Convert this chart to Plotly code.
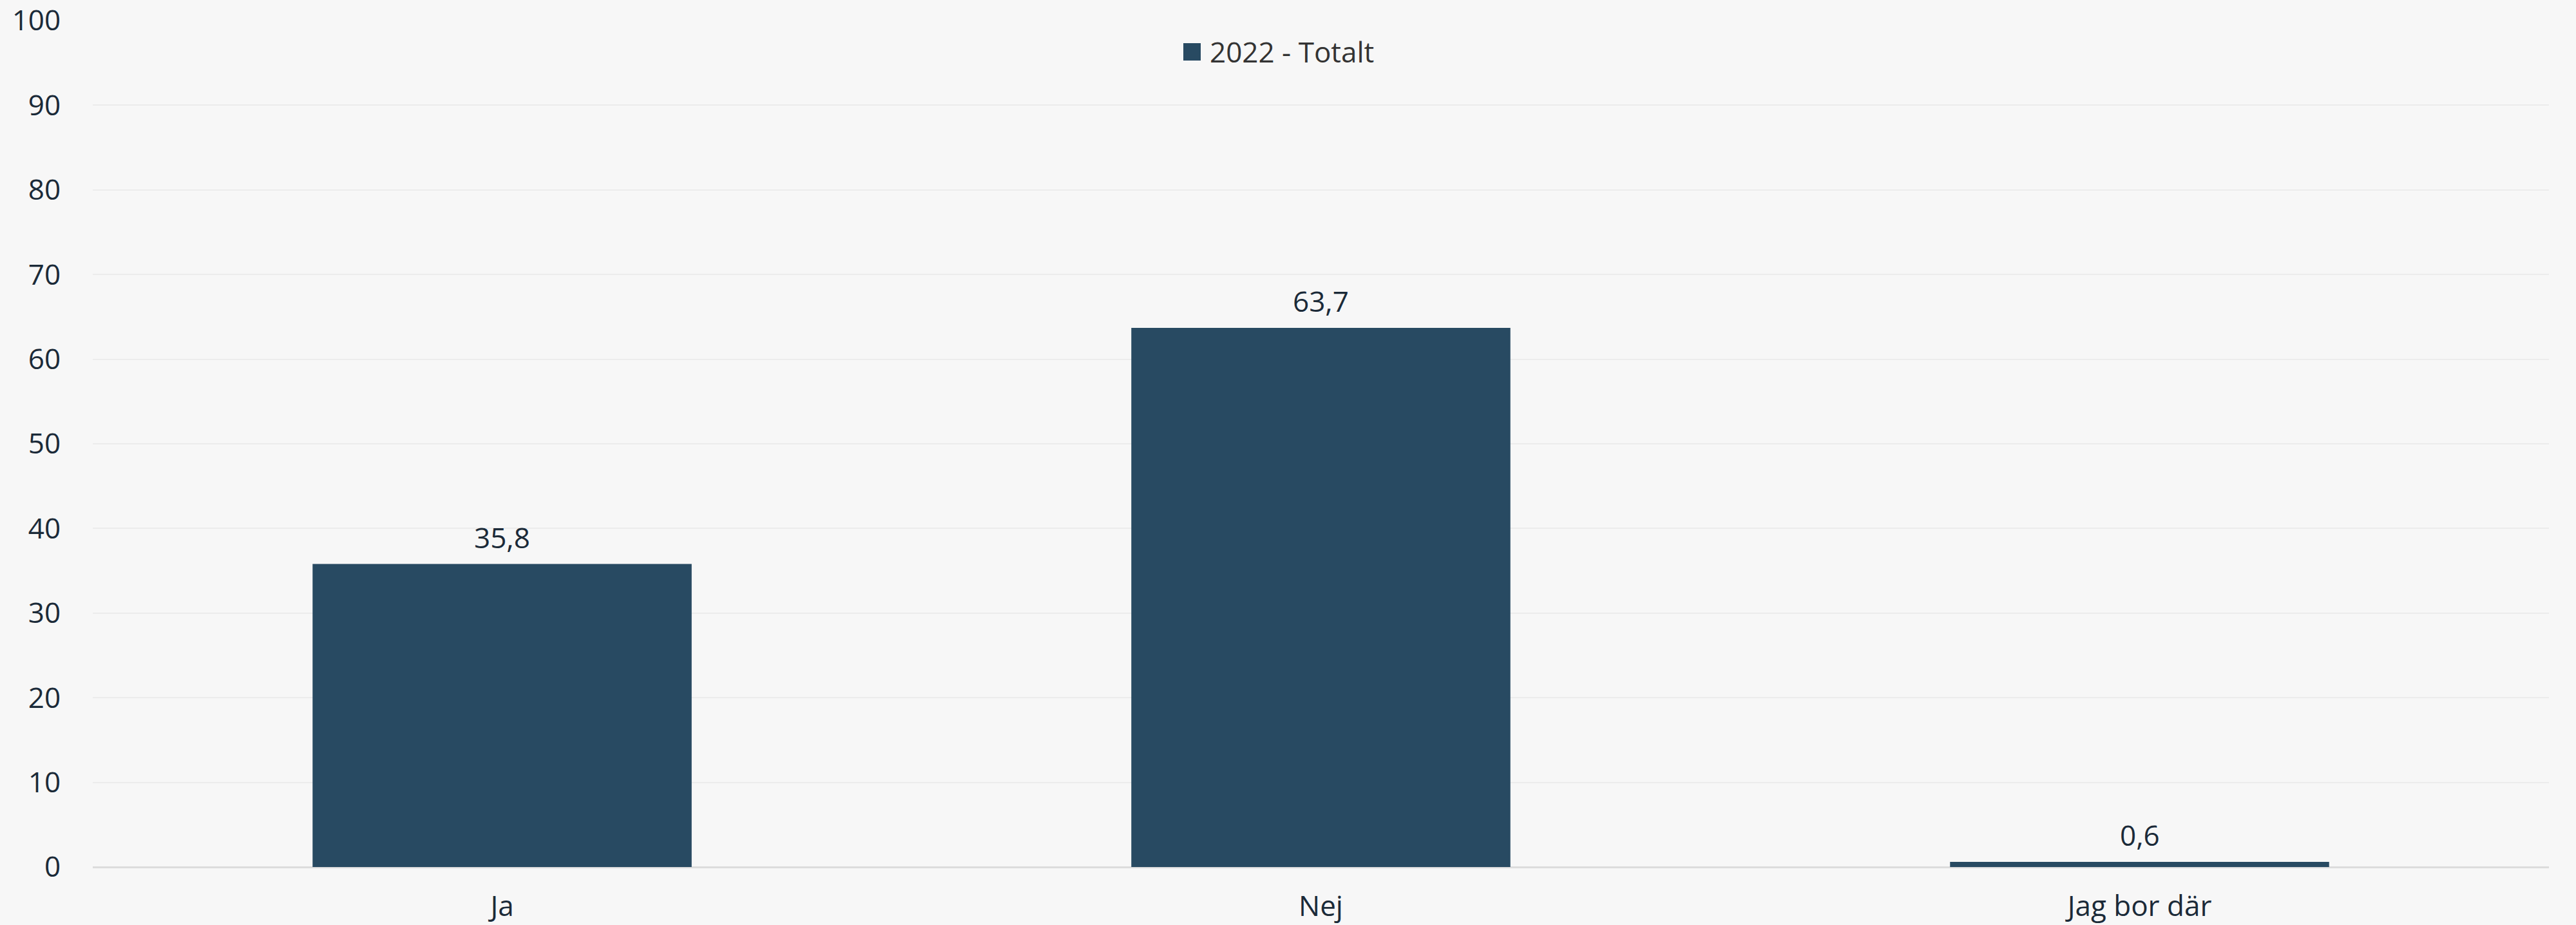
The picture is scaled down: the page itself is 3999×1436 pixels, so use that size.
import plotly.graph_objects as go

categories = ["Ja", "Nej", "Jag bor där"]
values = [35.8, 63.7, 0.6]
series_name = "2022 - Totalt"
y_ticks = [0, 10, 20, 30, 40, 50, 60, 70, 80, 90, 100]

BAR_COLOR = "#284a62"
BG = "#f7f7f7"
FONT = "Open Sans"
TXT = "#1b2a38"

W, H = 3999, 1436
ML, MR, MT, MB = 144, 42, 32, 90
PW, PH = W - ML - MR, H - MT - MB


def px_x(x):
    return (x - ML) / PW


def px_y(y):
    return (H - MB - y) / PH


fig = go.Figure()
fig.add_trace(go.Bar(
    x=categories, y=values, name=series_name,
    marker=dict(color=BAR_COLOR, line=dict(width=0)),
    showlegend=False,
))

for c, v in zip(categories, values):
    fig.add_annotation(
        x=c, y=v, text=f"{v:.1f}".replace(".", ","),
        showarrow=False, yanchor="bottom", yshift=10,
        font=dict(family=FONT, size=44, color=TXT),
    )

# manual legend (square + label)
fig.add_shape(
    type="rect", xref="paper", yref="paper",
    x0=px_x(1837), x1=px_x(1864), y0=px_y(94), y1=px_y(67),
    fillcolor=BAR_COLOR, line=dict(width=0),
)
fig.add_annotation(
    xref="paper", yref="paper", x=px_x(1876), y=px_y(80),
    xanchor="left", yanchor="middle", showarrow=False,
    text=series_name, font=dict(family=FONT, size=44, color="#333333"),
)

fig.update_layout(
    width=W, height=H,
    paper_bgcolor=BG, plot_bgcolor=BG,
    margin=dict(l=ML, r=MR, t=MT, b=MB, autoexpand=False),
    font=dict(family=FONT, size=44, color=TXT),
    bargap=0.537,
    showlegend=False,
    xaxis=dict(
        showgrid=False, showline=False, zeroline=False,
        ticks="outside", ticklen=22, tickcolor="rgba(0,0,0,0)",
        tickfont=dict(family=FONT, size=44, color=TXT),
        ticklabeloverflow="allow",
    ),
    yaxis=dict(
        range=[0, 100], tickvals=y_ticks,
        showgrid=True, gridcolor="#ececec", gridwidth=2,
        zeroline=True, zerolinecolor="#dcdcdc", zerolinewidth=3,
        showline=False,
        ticks="outside", ticklen=40, tickcolor="rgba(0,0,0,0)",
        tickfont=dict(family=FONT, size=44, color=TXT),
        ticklabeloverflow="allow",
    ),
)

fig.write_html(
    "out.html",
    config={"displayModeBar": False},
    post_script="document.body.style.margin='0';document.body.style.overflow='hidden';",
)
